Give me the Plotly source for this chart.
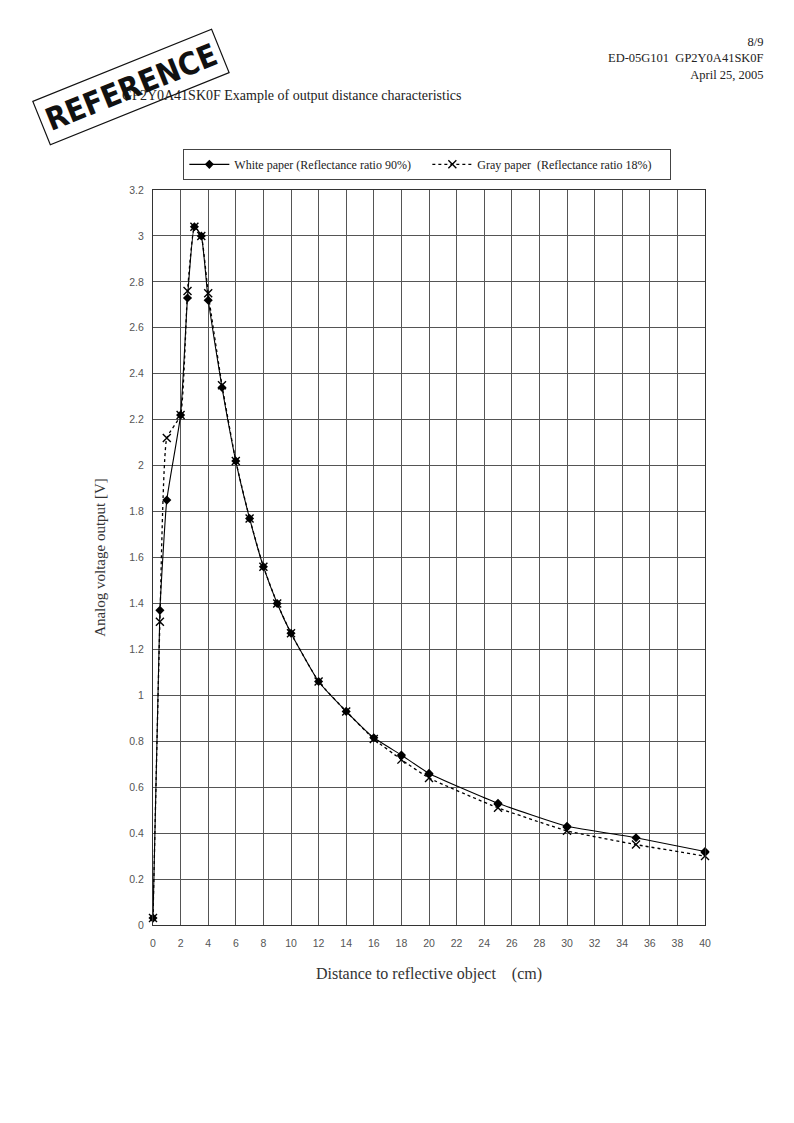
import plotly.graph_objects as go

# distance to reflective object (cm)
distance = [0, 0.5, 1, 2, 2.5, 3, 3.5, 4, 5, 6, 7, 8, 9, 10, 12, 14, 16, 18, 20, 25, 30, 35, 40]

# analog voltage output (V)
white_paper = [0.03, 1.37, 1.85, 2.22, 2.73, 3.04, 3.00, 2.72, 2.34, 2.02, 1.77, 1.56, 1.40, 1.27,
               1.06, 0.93, 0.815, 0.74, 0.66, 0.53, 0.43, 0.38, 0.32]
gray_paper = [0.03, 1.32, 2.12, 2.22, 2.76, 3.04, 3.00, 2.75, 2.35, 2.02, 1.77, 1.56, 1.40, 1.27,
              1.06, 0.93, 0.81, 0.72, 0.64, 0.51, 0.41, 0.35, 0.30]

x_ticks = list(range(0, 41, 2))

serif = "Liberation Serif, DejaVu Serif, serif"
narrow = "Liberation Sans Narrow, Liberation Sans, Arial, sans-serif"
black = "#000000"

fig = go.Figure()

fig.add_trace(go.Scatter(
    x=distance, y=white_paper, name="White paper (Reflectance ratio 90%)",
    mode="lines+markers", cliponaxis=False,
    line=dict(color=black, width=1.1, shape="spline", smoothing=0.4),
    marker=dict(symbol="diamond", size=7, color=black)))

fig.add_trace(go.Scatter(
    x=distance, y=gray_paper, name="Gray paper  (Reflectance ratio 18%)",
    mode="lines+markers", cliponaxis=False,
    line=dict(color=black, width=1.3, dash="dot", shape="spline", smoothing=0.4),
    marker=dict(symbol="x-thin", size=8, line=dict(color=black, width=1.4))))

fig.update_xaxes(range=[0, 40], tickmode="array", tickvals=x_ticks,
                 ticktext=[str(v) for v in x_ticks],
                 showgrid=True, gridcolor="#555555", gridwidth=1,
                 showline=True, mirror=True, linecolor="#333333", linewidth=1,
                 zeroline=False, ticks="", ticklabelstandoff=8,
                 tickfont=dict(family=narrow, size=10.5, color="#555555"),
                 title=dict(text="Distance to reflective object\u3000(cm)", standoff=20,
                            font=dict(family=serif, size=16, color="#333333")))

fig.update_yaxes(range=[0, 3.2], dtick=0.2,
                 showgrid=True, gridcolor="#555555", gridwidth=1,
                 showline=True, mirror=True, linecolor="#333333", linewidth=1,
                 zeroline=False, ticks="", ticklabelstandoff=6,
                 tickfont=dict(family=narrow, size=10.5, color="#555555"),
                 title=dict(text="Analog voltage output [V]", standoff=20,
                            font=dict(family=serif, size=15, color="#333333")))

# the page body adds 8px around the figure, so the margins are 8px less at left/top
fig.update_layout(
    width=794, height=1123,
    margin=dict(l=145, r=97, t=182, b=206, pad=0),
    plot_bgcolor="white", paper_bgcolor="white",
    showlegend=True,
    legend=dict(orientation="h", x=0.497, y=1.056, xanchor="center", yanchor="top",
                bordercolor="#444444", borderwidth=1, bgcolor="white",
                font=dict(family=serif, size=12, color="#222222"),
                entrywidth=188, entrywidthmode="pixels",
                tracegroupgap=0, itemwidth=40))

# page header
fig.add_annotation(xref="paper", yref="paper", x=1.1105, y=1.2136, xanchor="right", yanchor="top",
                   text="8/9<br>ED-05G101  GP2Y0A41SK0F<br>April 25, 2005", align="right",
                   showarrow=False, font=dict(family=serif, size=12.5, color="#222222"))

# chart title
fig.add_annotation(xref="paper", yref="paper", x=-0.06, y=1.128, xanchor="left", yanchor="middle",
                   text="GP2Y0A41SK0F Example of output distance characteristics",
                   showarrow=False, font=dict(family=serif, size=14, color="#222222"))

# REFERENCE stamp
fig.add_annotation(xref="paper", yref="paper", x=-0.04, y=1.14, xanchor="center", yanchor="middle",
                   text="<b>REFERENCE</b>", textangle=-22, showarrow=False,
                   bordercolor="#111111", borderwidth=1.2, borderpad=5,
                   font=dict(family="DejaVu Sans Condensed, Liberation Sans Narrow, sans-serif",
                             size=31, color="#111111"))

fig.write_html("out.html")
